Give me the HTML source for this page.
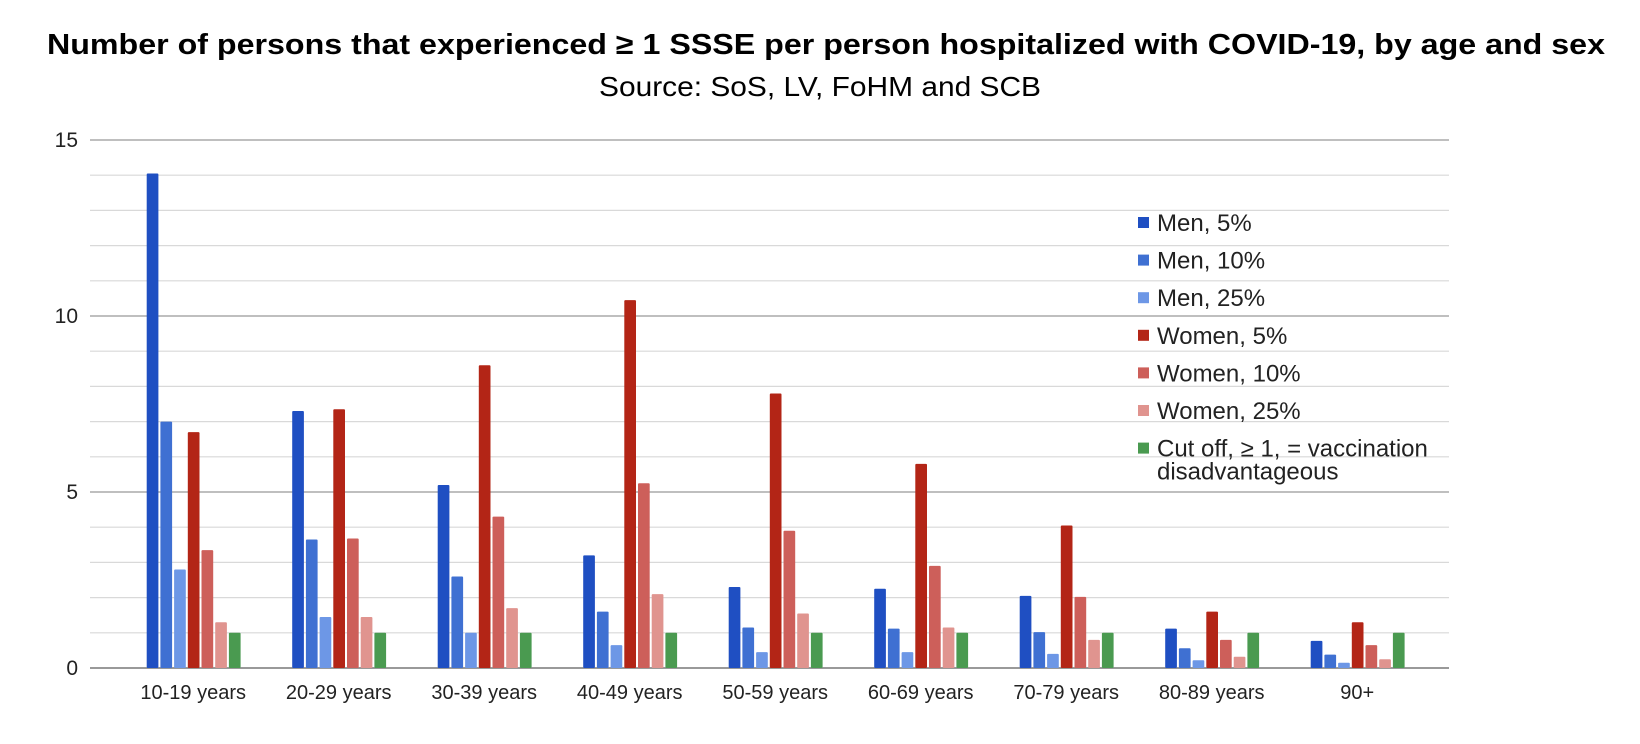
<!DOCTYPE html>
<html><head><meta charset="utf-8"><style>
html,body{margin:0;padding:0;background:#fff;}
svg{display:block;font-family:"Liberation Sans",Arial,sans-serif;}
</style></head><body>
<svg id="chart" width="1640" height="744" viewBox="0 0 1640 744">
<text x="826" y="54" text-anchor="middle" font-weight="bold" font-size="29" textLength="1558" lengthAdjust="spacingAndGlyphs">Number of persons that experienced ≥ 1 SSSE per person hospitalized with COVID-19, by age and sex</text>
<text x="820" y="96" text-anchor="middle" font-size="28" textLength="442" lengthAdjust="spacingAndGlyphs">Source: SoS, LV, FoHM and SCB</text>
<g id="grid"></g><g id="bars"></g><g id="labels"></g><g id="legend"></g>
</svg>
<script>
const categories=["10-19 years","20-29 years","30-39 years","40-49 years","50-59 years","60-69 years","70-79 years","80-89 years","90+"];
const seriesNames=["Men, 5%","Men, 10%","Men, 25%","Women, 5%","Women, 10%","Women, 25%","Cut off, ≥ 1, = vaccination disadvantageous"];
const men5=[14.05,7.3,5.2,3.2,2.3,2.25,2.05,1.12,0.77];
const men10=[7.0,3.65,2.6,1.6,1.15,1.12,1.02,0.56,0.38];
const men25=[2.8,1.45,1.0,0.65,0.45,0.45,0.4,0.22,0.15];
const women5=[6.7,7.35,8.6,10.45,7.8,5.8,4.05,1.6,1.3];
const women10=[3.35,3.68,4.3,5.25,3.9,2.9,2.02,0.8,0.65];
const women25=[1.3,1.45,1.7,2.1,1.55,1.15,0.8,0.32,0.25];
const cutoff=[1,1,1,1,1,1,1,1,1];
const yTicks=[0,5,10,15];
const colors=["#1f4fc2","#3f70d2","#6d97e6","#b32516","#cd5f5a","#e0948f","#4a9a50"];
const NS="http://www.w3.org/2000/svg";
const series=[men5,men10,men25,women5,women10,women25,cutoff];
const x0=90,x1=1449,yZero=668,unit=35.2;
function y(v){return yZero-v*unit;}
function groupStart(i){return 146.7+i*145.5;}
function mk(t,a,p){const e=document.createElementNS(NS,t);for(const k in a)e.setAttribute(k,a[k]);p.appendChild(e);return e;}
const grid=document.getElementById('grid');
for(let v=1;v<=15;v++){
 const major=v%5===0;
 const l=mk('line',{x1:x0,x2:x1,y1:y(v),y2:y(v),stroke:major?'#aaa':'#d9d9d9','stroke-width':major?1.5:1.2},grid);
 
 
}
const ax=mk('line',{x1:x0,x2:x1,y1:yZero,y2:yZero,stroke:'#999','stroke-width':2},grid);


const labels=document.getElementById('labels');
yTicks.forEach(v=>{
 const t=mk('text',{x:78,y:y(v)+7,'text-anchor':'end','font-size':21,fill:'#222'},labels);
 t.textContent=v;
 
 
});
const bars=document.getElementById('bars');
categories.forEach((c,i)=>{
 series.forEach((s,j)=>{
  const bx=groupStart(i)+j*13.7;
  const r=mk('rect',{x:bx,y:y(s[i]),width:11.7,height:s[i]*unit,fill:colors[j],rx:1},bars);
  
  
 });
 const t=mk('text',{x:groupStart(i)+46.5,y:699,'text-anchor':'middle','font-size':20,fill:'#222'},labels);
 t.textContent=c;
 
 
});
const lg=document.getElementById('legend');
seriesNames.forEach((n,j)=>{
 const cy=223+j*37.6;
 const m=mk('rect',{x:1138,y:cy-6,width:11,height:11,fill:colors[j]},lg);
 
 
 const t=mk('text',{x:1157,y:cy+8,'font-size':24,fill:'#222'},lg);
 
 
 if(j===6){
  t.textContent="Cut off, ≥ 1, = vaccination";
  const t2=mk('text',{x:1157,y:cy+8+23,'font-size':24,fill:'#222'},lg);
  t2.textContent="disadvantageous";
  
  
 } else t.textContent=n;
});
</script>
</body></html>
